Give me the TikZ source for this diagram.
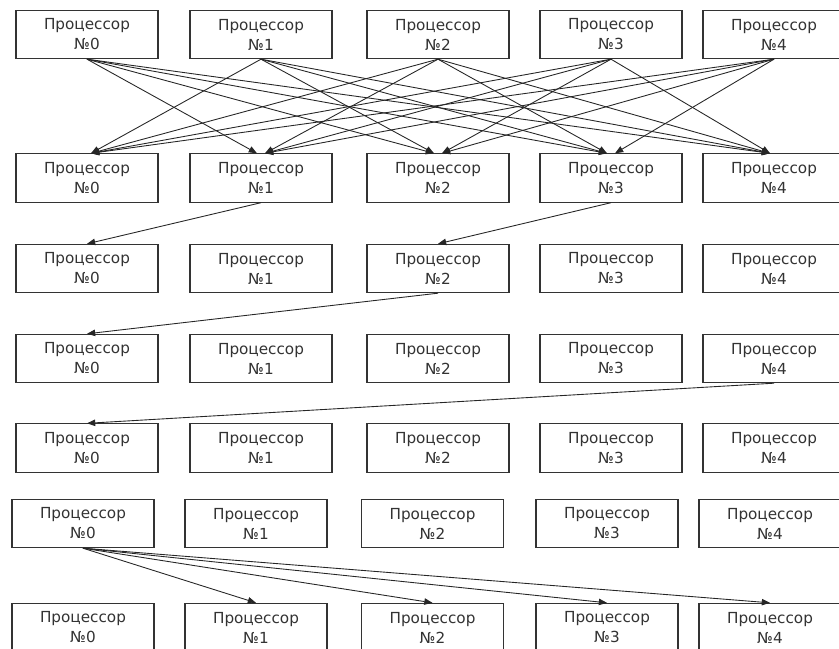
\documentclass[tikz,border=0pt]{standalone}
\usepackage{fontspec}
\setmainfont{DejaVu Sans}
\usetikzlibrary{arrows.meta}
\begin{document}
\begin{tikzpicture}[x=0.03cm,y=-0.03cm]
  \tikzset{proc/.style={draw=black!80, line width=0.9pt, rectangle, minimum width=4.26cm, minimum height=1.45cm, inner sep=0pt, align=center, font=\fontsize{13}{17}\selectfont, text=black!80}}
  \tikzset{send/.style={color=black!85, line width=0.75pt, -{Triangle[length=7pt,width=5.5pt]}}}
  \useasboundingbox (0,0) rectangle (839,649);

  % row 1
  \node[proc] at (87,34.5) (a0) {Процессор\\№0};
  \node[proc] at (261,34.5) (a1) {Процессор\\№1};
  \node[proc] at (438,34.5) (a2) {Процессор\\№2};
  \node[proc] at (611,34.5) (a3) {Процессор\\№3};
  \node[proc] at (774,34.5) (a4) {Процессор\\№4};
  % row 2
  \node[proc] at (87,178) (b0) {Процессор\\№0};
  \node[proc] at (261,178) (b1) {Процессор\\№1};
  \node[proc] at (438,178) (b2) {Процессор\\№2};
  \node[proc] at (611,178) (b3) {Процессор\\№3};
  \node[proc] at (774,178) (b4) {Процессор\\№4};
  % row 3
  \node[proc] at (87,268.5) (c0) {Процессор\\№0};
  \node[proc] at (261,268.5) (c1) {Процессор\\№1};
  \node[proc] at (438,268.5) (c2) {Процессор\\№2};
  \node[proc] at (611,268.5) (c3) {Процессор\\№3};
  \node[proc] at (774,268.5) (c4) {Процессор\\№4};
  % row 4
  \node[proc] at (87,358.5) (d0) {Процессор\\№0};
  \node[proc] at (261,358.5) (d1) {Процессор\\№1};
  \node[proc] at (438,358.5) (d2) {Процессор\\№2};
  \node[proc] at (611,358.5) (d3) {Процессор\\№3};
  \node[proc] at (774,358.5) (d4) {Процессор\\№4};
  % row 5
  \node[proc] at (87,448) (e0) {Процессор\\№0};
  \node[proc] at (261,448) (e1) {Процессор\\№1};
  \node[proc] at (438,448) (e2) {Процессор\\№2};
  \node[proc] at (611,448) (e3) {Процессор\\№3};
  \node[proc] at (774,448) (e4) {Процессор\\№4};
  % row 6
  \node[proc] at (83,523.5) (f0) {Процессор\\№0};
  \node[proc] at (256,523.5) (f1) {Процессор\\№1};
  \node[proc] at (432.5,523.5) (f2) {Процессор\\№2};
  \node[proc] at (607,523.5) (f3) {Процессор\\№3};
  \node[proc] at (770,523.5) (f4) {Процессор\\№4};
  % row 7
  \node[proc] at (83,627.5) (g0) {Процессор\\№0};
  \node[proc] at (256,627.5) (g1) {Процессор\\№1};
  \node[proc] at (432.5,627.5) (g2) {Процессор\\№2};
  \node[proc] at (607,627.5) (g3) {Процессор\\№3};
  \node[proc] at (770,627.5) (g4) {Процессор\\№4};

  % all to all
  \path[send] (a0.south) edge ([xshift=-0.12cm]b1.north);
  \path[send] (a0.south) edge ([xshift=-0.12cm]b2.north);
  \path[send] (a0.south) edge ([xshift=-0.12cm]b3.north);
  \path[send] (a0.south) edge ([xshift=-0.12cm]b4.north);
  \path[send] (a1.south) edge ([xshift=0.12cm]b0.north);
  \path[send] (a1.south) edge ([xshift=-0.12cm]b2.north);
  \path[send] (a1.south) edge ([xshift=-0.12cm]b3.north);
  \path[send] (a1.south) edge ([xshift=-0.12cm]b4.north);
  \path[send] (a2.south) edge ([xshift=0.12cm]b0.north);
  \path[send] (a2.south) edge ([xshift=0.12cm]b1.north);
  \path[send] (a2.south) edge ([xshift=-0.12cm]b3.north);
  \path[send] (a2.south) edge ([xshift=-0.12cm]b4.north);
  \path[send] (a3.south) edge ([xshift=0.12cm]b0.north);
  \path[send] (a3.south) edge ([xshift=0.12cm]b1.north);
  \path[send] (a3.south) edge ([xshift=0.12cm]b2.north);
  \path[send] (a3.south) edge ([xshift=-0.12cm]b4.north);
  \path[send] (a4.south) edge ([xshift=0.12cm]b0.north);
  \path[send] (a4.south) edge ([xshift=0.12cm]b1.north);
  \path[send] (a4.south) edge ([xshift=0.12cm]b2.north);
  \path[send] (a4.south) edge ([xshift=0.12cm]b3.north);

  % gather
  \path[send] (b1.south) edge (c0.north);
  \path[send] (b3.south) edge (c2.north);
  \path[send] (c2.south) edge (d0.north);
  \path[send] (d4.south) edge (e0.north);

  % broadcast
  \path[send] (f0.south) edge (g1.north);
  \path[send] (f0.south) edge (g2.north);
  \path[send] (f0.south) edge (g3.north);
  \path[send] (f0.south) edge (g4.north);

\end{tikzpicture}
\end{document}
